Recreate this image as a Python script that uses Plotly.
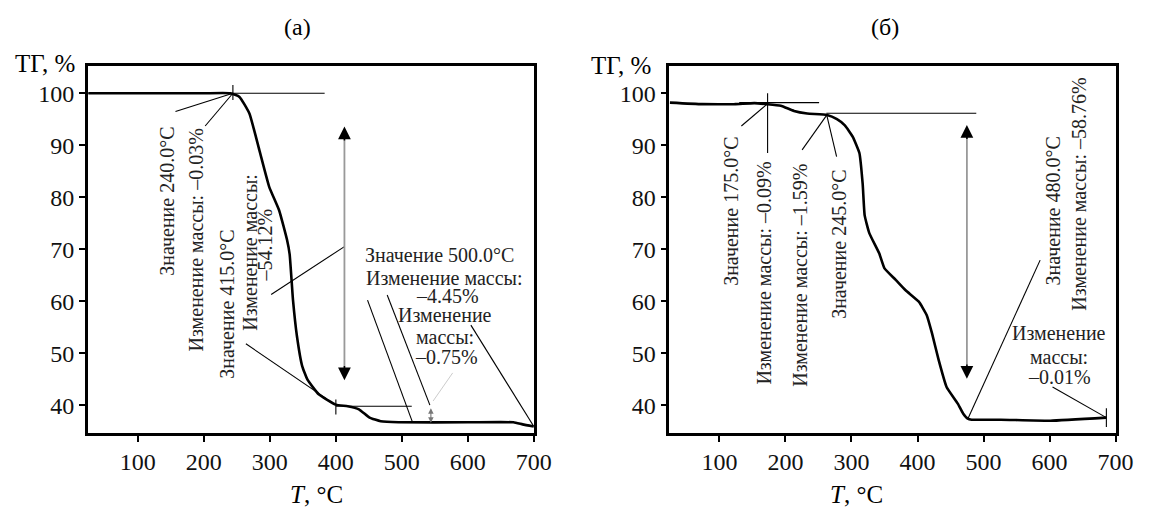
import plotly.graph_objects as go

# ---------------- data ----------------
temp_a = [25, 100, 200, 240, 254, 269, 284, 299, 314, 326, 330, 335, 341, 349, 357, 374, 400, 418, 435, 451, 468, 495, 600, 669, 683, 700]
mass_a = [100, 100, 100, 100, 99.3, 96.1, 89.1, 82.0, 77.5, 71.8, 69.0, 60.3, 53.3, 47.5, 44.9, 42.1, 40.1, 39.8, 39.2, 37.6, 36.9, 36.7, 36.7, 36.7, 36.3, 35.9]

temp_b = [25, 74, 123, 153, 173, 193, 213, 233, 263, 278, 290, 302, 312, 317, 320, 327, 342, 350, 367, 382, 402, 414, 422, 432, 444, 461, 469, 476, 482, 526, 601, 686]
mass_b = [98.2, 97.9, 97.9, 98.1, 97.9, 97.6, 96.6, 96.1, 95.8, 95.0, 93.8, 91.6, 88.5, 82.5, 76.5, 73.1, 69.2, 66.3, 64.1, 62.1, 59.9, 57.3, 53.8, 48.7, 43.5, 40.3, 38.4, 37.4, 37.2, 37.2, 37.0, 37.6]

x_ticks = [100, 200, 300, 400, 500, 600, 700]
y_ticks = [40, 50, 60, 70, 80, 90, 100]
x_range = [24.3, 700]
y_range = [34.7, 105.3]

# leader / reference lines (data coordinates): (x0, y0, x1, y1)
leaders_a = [
    (244, 100, 157, 96.5), (244, 100, 202, 93.7),
    (413, 70.5, 302, 61.3), (263.7, 51.8, 385, 41.3),
    (448, 60.2, 516.5, 36.6), (477.8, 61.2, 542.5, 40.0),
    (604.6, 55.4, 700, 35.9),
    (25, 100, 383, 100), (400, 39.8, 515, 39.8),
    (244, 101.6, 244, 98.7), (400, 41.1, 400, 38.2),
]
faint_a = [(577, 46.2, 547.4, 40.8)]
leaders_b = [
    (173, 100, 173, 88.5), (173, 98.0, 133.3, 93.7),
    (262.6, 95.8, 225.3, 89.1), (262.6, 95.8, 277.5, 87.8),
    (476.3, 37.4, 585.7, 67.9), (686, 37.6, 604.5, 43.5),
    (130, 98.2, 251, 98.2), (262, 96.15, 489, 96.15),
    (686, 39.4, 686, 35.8),
]
# big gray double arrows: x, y_top, y_bottom
big_arrow_a = (413, 93.6, 44.8)
big_arrow_b = (474.8, 93.9, 45.1)
small_arrow_a = (544, 39.7, 36.6)

# texts: (text, x, y, angle, yanchor)
texts_a = [
    ("Значение 240.0°C", 144.7, 93.9, -90, "top"),
    ("Изменение массы: –0.03%", 189.5, 93.7, -90, "top"),
    ("Значение 415.0°C", 235.6, 74.1, -90, "top"),
    ("Изменение массы:", 270.5, 69.4, -90, "middle"),
    ("–54.12%", 292.0, 70.8, -90, "middle"),
    ("Значение 500.0°C", 557.5, 68.9, 0, "middle"),
    ("Изменение массы:", 564.9, 64.5, 0, "middle"),
    ("–4.45%", 569.8, 61.0, 0, "middle"),
    ("Изменение", 565.3, 57.3, 0, "middle"),
    ("массы:", 565.3, 53.1, 0, "middle"),
    ("–0.75%", 567.0, 49.2, 0, "middle"),
]
texts_b = [
    ("Значение 175.0°C", 118.4, 92.0, -90, "top"),
    ("Изменение массы: –0.09%", 168.0, 87.2, -90, "top"),
    ("Изменение массы: –1.59%", 222.7, 86.8, -90, "top"),
    ("Значение 245.0°C", 280.0, 85.6, -90, "top"),
    ("Значение 480.0°C", 605.6, 77.3, -90, "middle"),
    ("Изменение массы: –58.76%", 645.4, 80.6, -90, "middle"),
    ("Изменение", 614.5, 53.8, 0, "middle"),
    ("массы:", 614.5, 49.3, 0, "middle"),
    ("–0.01%", 614.5, 45.5, 0, "middle"),
]

FONT = "Liberation Serif"
W, H = 1154, 508

fig = go.Figure()
fig.add_trace(go.Scatter(x=temp_a, y=mass_a, mode="lines", xaxis="x", yaxis="y",
                         line=dict(color="black", width=2.6, shape="spline", smoothing=0.4),
                         showlegend=False, hoverinfo="skip"))
fig.add_trace(go.Scatter(x=temp_b, y=mass_b, mode="lines", xaxis="x2", yaxis="y2",
                         line=dict(color="black", width=2.6, shape="spline", smoothing=0.4),
                         showlegend=False, hoverinfo="skip"))

axis_common = dict(showline=True, mirror=True, linecolor="black", linewidth=2.6,
                   ticks="outside", ticklen=6, tickwidth=1.5, tickcolor="black",
                   showgrid=False, zeroline=False,
                   tickfont=dict(family=FONT, size=24, color="#111111"))

fig.update_layout(
    width=W, height=H,
    margin=dict(l=0, r=0, t=0, b=0),
    paper_bgcolor="white", plot_bgcolor="white",
    font=dict(family=FONT),
    xaxis=dict(domain=[89.3 / W, 542.3 / W], range=x_range, tickvals=x_ticks, anchor="y", **axis_common),
    yaxis=dict(domain=[1 - 432.7 / H, 1 - 65.7 / H], range=y_range, tickvals=y_ticks, anchor="x", **axis_common),
    xaxis2=dict(domain=[680 / W, 1133.3 / W], range=x_range, tickvals=x_ticks, anchor="y2", **axis_common),
    yaxis2=dict(domain=[1 - 432.7 / H, 1 - 65.7 / H], range=y_range, tickvals=y_ticks, anchor="x2", **axis_common),
)

shapes = []
for (x0, y0, x1, y1) in leaders_a:
    shapes.append(dict(type="line", xref="x", yref="y", x0=x0, y0=y0, x1=x1, y1=y1,
                       line=dict(color="black", width=1.1)))
for (x0, y0, x1, y1) in faint_a:
    shapes.append(dict(type="line", xref="x", yref="y", x0=x0, y0=y0, x1=x1, y1=y1,
                       line=dict(color="#cccccc", width=1)))
for (x0, y0, x1, y1) in leaders_b:
    shapes.append(dict(type="line", xref="x2", yref="y2", x0=x0, y0=y0, x1=x1, y1=y1,
                       line=dict(color="black", width=1.1)))
for (xa, ya, (xx, yt, yb)) in [("x", "y", big_arrow_a), ("x2", "y2", big_arrow_b)]:
    shapes.append(dict(type="line", xref=xa, yref=ya, x0=xx, y0=yt - 2, x1=xx, y1=yb + 2,
                       line=dict(color="#999999", width=1.8)))
fig.update_layout(shapes=shapes)

ann = []
for (xa, ya, (xx, yt, yb)) in [("x", "y", big_arrow_a), ("x2", "y2", big_arrow_b)]:
    for tip, tail in [(yt, yt - 3), (yb, yb + 3)]:
        ann.append(dict(x=xx, y=tip, ax=xx, ay=tail, xref=xa, yref=ya, axref=xa, ayref=ya,
                        text="", showarrow=True, arrowhead=2, arrowsize=1.7, arrowwidth=1.5,
                        arrowcolor="black", standoff=0))
xx, yt, yb = small_arrow_a
ann.append(dict(x=xx, y=yb, ax=xx, ay=yt, xref="x", yref="y", axref="x", ayref="y",
                text="", showarrow=True, arrowhead=2, arrowside="end+start", arrowsize=1,
                arrowwidth=1.1, arrowcolor="#777777", standoff=0, startstandoff=0))

for (texts, xa, ya) in [(texts_a, "x", "y"), (texts_b, "x2", "y2")]:
    for (t, x, y, ang, yanc) in texts:
        ann.append(dict(text=t, x=x, y=y, xref=xa, yref=ya, showarrow=False, textangle=ang,
                        xanchor="center", yanchor=yanc,
                        font=dict(family=FONT, size=20, color="#222222")))

# titles and axis labels (paper coordinates)
for (t, px, py, size) in [("(а)", 302, 27, 24), ("(б)", 899, 27, 24),
                          ("ТГ, %", 45.5, 63, 25), ("ТГ, %", 630.5, 65, 25),
                          ("<i>T</i>, °C", 322, 494, 25), ("<i>T</i>, °C", 870, 494, 25)]:
    ann.append(dict(text=t, x=px / W, y=1 - py / H, xref="paper", yref="paper", showarrow=False,
                    xanchor="center", yanchor="middle", font=dict(family=FONT, size=size, color="black")))

fig.update_layout(annotations=ann)
fig.write_html("out.html")
